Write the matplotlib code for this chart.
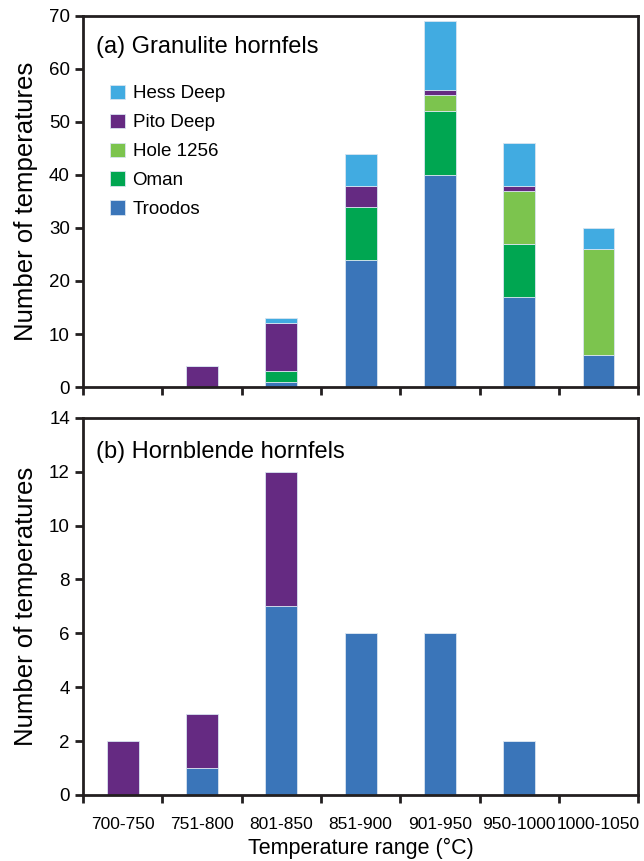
import matplotlib
matplotlib.use("Agg")
import matplotlib.pyplot as plt
import numpy as np

plt.rcParams["font.family"] = ["Liberation Sans", "DejaVu Sans"]

categories = ["700-750", "751-800", "801-850", "851-900", "901-950",
              "950-1000", "1000-1050"]

# (a) granulite hornfels, stacked bottom -> top
gran_troodos = [0, 0, 1, 24, 40, 17, 6]
gran_oman = [0, 0, 2, 10, 12, 10, 0]
gran_hole = [0, 0, 0, 0, 3, 10, 20]
gran_pito = [0, 4, 9, 4, 1, 1, 0]
gran_hess = [0, 0, 1, 6, 13, 8, 4]

# (b) hornblende hornfels
horn_troodos = [0, 1, 7, 6, 6, 2, 0]
horn_pito = [2, 2, 5, 0, 0, 0, 0]

colors = {
    "Troodos": "#3a75b9",
    "Oman": "#00a651",
    "Hole 1256": "#7cc44e",
    "Pito Deep": "#652a82",
    "Hess Deep": "#41abe1",
}

x = np.arange(len(categories))
width = 0.4
edge = dict(edgecolor="#d8e4f0", linewidth=0.6)

fig = plt.figure(figsize=(6.44, 8.61), dpi=100)
ax_a = fig.add_axes([0.129, 0.5505, 0.862, 0.431])
ax_b = fig.add_axes([0.129, 0.0767, 0.862, 0.438])


def style_axis(ax, ymax, ystep):
    ax.set_xlim(-0.5, len(categories) - 0.5)
    ax.set_ylim(0, ymax)
    ax.set_yticks(np.arange(0, ymax + 1, ystep))
    for s in ax.spines.values():
        s.set_linewidth(2.0)
        s.set_color("#231f20")
    ax.set_xticks(x)
    ax.set_xticks(np.arange(-0.5, len(categories)), minor=True)
    ax.tick_params(axis="x", which="major", length=0, labelsize=12.5, pad=16)
    ax.tick_params(axis="x", which="minor", length=6, width=2,
                   color="#231f20", direction="out")
    ax.tick_params(axis="y", length=6, width=2, color="#231f20",
                   direction="out", labelsize=13.5)
    ax.set_ylabel("Number of temperatures", fontsize=18.5, labelpad=8)


# --- panel (a) ----------------------------------------------------
bottom = np.zeros(len(categories))
handles = []
for name, vals in [("Troodos", gran_troodos), ("Oman", gran_oman),
                   ("Hole 1256", gran_hole), ("Pito Deep", gran_pito),
                   ("Hess Deep", gran_hess)]:
    vals = np.array(vals, dtype=float)
    h = ax_a.bar(x, vals, width, bottom=bottom, color=colors[name],
                 label=name, **edge)
    handles.append(h)
    bottom += vals
style_axis(ax_a, 70, 10)
ax_a.set_xticklabels([])
ax_a.text(0.023, 0.915, "(a) Granulite hornfels", transform=ax_a.transAxes,
          fontsize=17, va="center")
ax_a.legend(handles[::-1], [h.get_label() for h in handles[::-1]],
            loc="upper left", bbox_to_anchor=(0.035, 0.835), frameon=False,
            fontsize=13.5, handlelength=0.8, handleheight=0.8,
            handletextpad=0.4, labelspacing=0.6, borderaxespad=0)

# --- panel (b) ----------------------------------------------------
bottom = np.zeros(len(categories))
for name, vals in [("Troodos", horn_troodos), ("Pito Deep", horn_pito)]:
    vals = np.array(vals, dtype=float)
    ax_b.bar(x, vals, width, bottom=bottom, color=colors[name], **edge)
    bottom += vals
style_axis(ax_b, 14, 2)
ax_b.set_xticklabels(categories)
ax_b.text(0.023, 0.91, "(b) Hornblende hornfels", transform=ax_b.transAxes,
          fontsize=17, va="center")
ax_b.set_xlabel("Temperature range (\u00b0C)", fontsize=15.5, labelpad=4)

fig.savefig("out.png", dpi=100)
